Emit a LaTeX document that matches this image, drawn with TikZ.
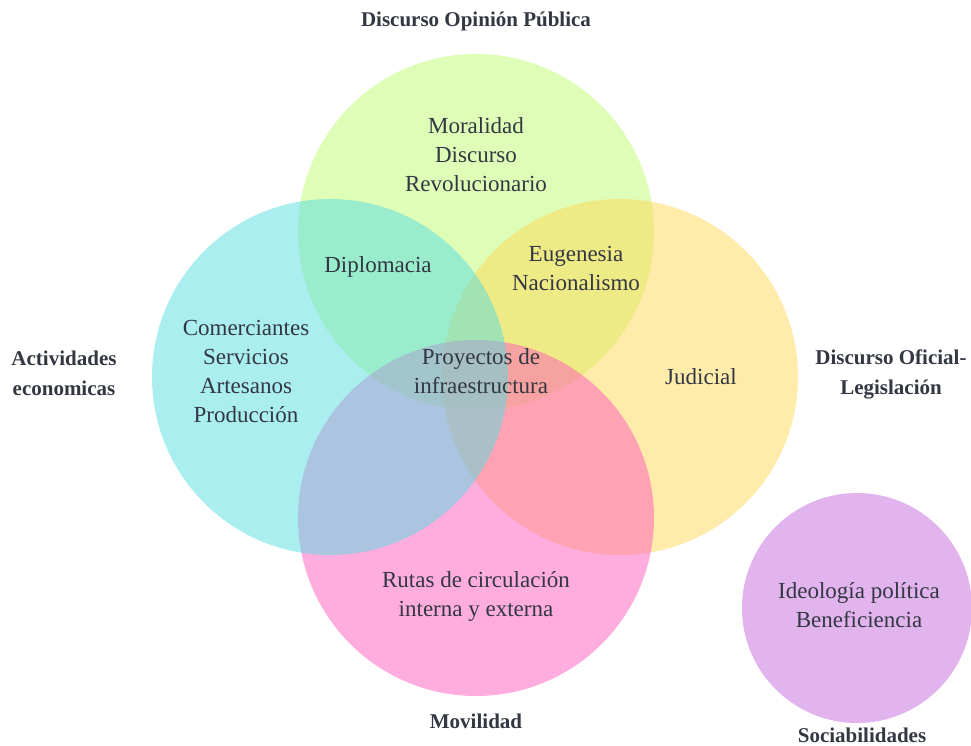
\documentclass[tikz,border=0pt]{standalone}
\usepackage{fontspec}
\setmainfont{Liberation Serif}
\usetikzlibrary{positioning}

\definecolor{opgreen}{RGB}{189,251,111}
\definecolor{ofyellow}{RGB}{255,215,85}
\definecolor{movpink}{RGB}{255,91,189}
\definecolor{actcyan}{RGB}{87,221,225}
\definecolor{socpurple}{RGB}{197,105,221}
\definecolor{inkgray}{RGB}{50,55,66}

\tikzset{
  setcircle/.style={circle,draw=none,inner sep=0pt,minimum size=356pt,fill=#1,fill opacity=.5},
  smallset/.style={setcircle=#1,minimum size=230pt},
  inner/.style={align=center,inner sep=0pt,text=inkgray,font=\fontsize{23}{29}\selectfont},
  title/.style={align=center,inner sep=0pt,text=inkgray,font=\bfseries\fontsize{21}{30}\selectfont}
}

\begin{document}
\begin{tikzpicture}[x=1pt,y=-1pt]
\path[use as bounding box] (0,0) rectangle (971,745);
% the four sets, back to front
\node[setcircle=opgreen] (opinion) at (476,232) {};
\node[setcircle=ofyellow] (oficial) at (620,377) {};
\node[setcircle=movpink] (movil) at (476,518) {};
\node[setcircle=actcyan] (activ) at (330,377) {};
\node[smallset=socpurple] (socia) at (857,608) {};
% set names
\node[title] (opinionlbl) at (476,21) {Discurso Opinión Pública};
\node[title] (activlbl) at (64,373) {Actividades\\economicas};
\node[title] (oficiallbl) at (891,374) {Discurso Oficial-\\Legislación};
\node[title] (movillbl) at (476,721) {Movilidad};
\node[title] (socialbl) at (862,735) {Sociabilidades};
% contents
\node[inner] (moral) at (476,155) {Moralidad\\Discurso\\Revolucionario};
\node[inner] (diplo) at (378,267) {Diplomacia};
\node[inner] (eugen) at (576,268) {Eugenesia\\Nacionalismo};
\node[inner] (comer) at (246,371) {Comerciantes\\Servicios\\Artesanos\\Producción};
\node[inner] (proye) at (481,371) {Proyectos de\\infraestructura};
\node[inner] (judic) at (701,377) {Judicial};
\node[inner] (rutas) at (476,596) {Rutas de circulación\\interna y externa};
\node[inner] (ideol) at (859,605) {Ideología política\\Beneficiencia};
\end{tikzpicture}
\end{document}
